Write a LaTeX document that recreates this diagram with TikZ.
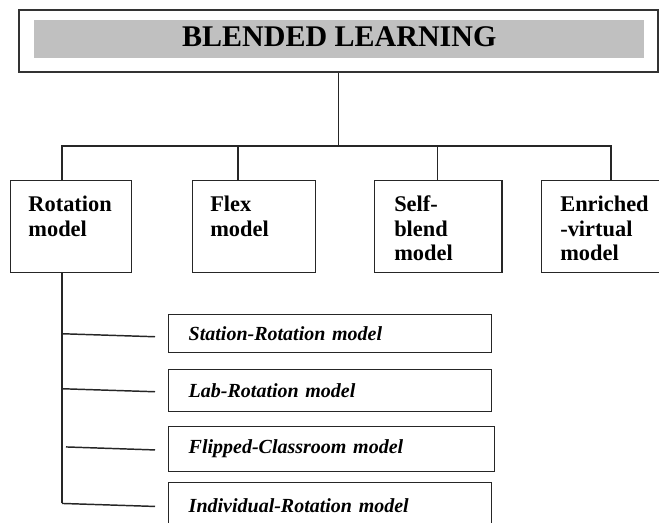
\documentclass[tikz,border=0pt]{standalone}
\usepackage{fontspec}
\setmainfont{Liberation Serif}
\usepackage{tikz}
\usetikzlibrary{calc}

\tikzset{
  link/.style={line width=1.1pt, color=black!85},
  outerbox/.style={draw=black!80, line width=1.4pt, minimum width=479.5pt, minimum height=46.7pt, inner sep=0pt},
  titleband/.style={fill=silver, minimum width=457.5pt, minimum height=28.7pt, text depth=3.75pt, inner sep=0pt,
                    font=\fontsize{22.5}{26}\selectfont\bfseries},
  modelbox/.style={draw=black!85, line width=1.1pt, anchor=north west, minimum height=69pt, inner sep=0pt},
  modeltext/.style={anchor=north west, align=left, inner sep=0pt,
                    font=\fontsize{16.8}{18.4}\selectfont\bfseries},
  subbox/.style={draw=black!85, line width=1.1pt, anchor=north west, align=left, inner xsep=15pt, inner ysep=0pt,
                 text width=#1, font=\fontsize{15}{17}\selectfont\bfseries\itshape},
}
\definecolor{silver}{HTML}{C0C0C0}

\begin{document}
\begin{tikzpicture}[x=0.75pt,y=0.75pt,yscale=-1,xscale=1]
%set diagram left start at 0, and has height of 522
\useasboundingbox (0,0) rectangle (659,522);
\clip (0,0) rectangle (659,522);

%Shape: Title box
\node[outerbox] (top) at (338.7,41.2) {};
\node[titleband] (title) at (339.3,39.2) {BLENDED LEARNING};

%Shape: Model boxes
\node[modelbox, minimum width=91pt] (rot) at (9.5,180) {};
\node[modelbox, minimum width=91.9pt] (flex) at (192,180) {};
\node[modelbox, minimum width=95.6pt] (self) at (374,180) {};
\node[modelbox, minimum width=95pt] (enr) at (540.7,180) {};

% Text Node
\node[modeltext] (rottxt) at ([shift={(14pt,11.8pt)}]rot.north west) {Rotation\\model};
% Text Node
\node[modeltext] (flextxt) at ([shift={(13.5pt,11.8pt)}]flex.north west) {Flex\\model};
% Text Node
\node[modeltext] (selftxt) at ([shift={(15pt,11.8pt)}]self.north west) {Self-\\blend\\model};
% Text Node
\node[modeltext] (enrtxt) at ([shift={(14.5pt,11.8pt)}]enr.north west) {Enriched\\-virtual\\model};

%Shape: Rotation sub-model boxes
\node[subbox=212.25pt, minimum height=28.5pt] (st) at (168,314) {Station-Rotation model};
\node[subbox=212.25pt, minimum height=31.5pt] (lab) at (168,369) {Lab-Rotation model};
\node[subbox=214.5pt, minimum height=33.75pt] (flip) at (168,425.7) {Flipped-Classroom model};
\node[subbox=212.25pt, minimum height=34.5pt] (ind) at (168,481.7) {Individual-Rotation model};

%Straight Lines: tree under the title
\coordinate (hub) at (338.7,146);
\coordinate (b1) at (62,146);
\coordinate (b2) at (238,146);
\coordinate (b3) at (437.6,146);
\coordinate (b4) at (611,146);
\draw[link] (top.south) -- (hub);
\draw[link] (b1 |- rot.north) -- (b1) -- (b4) -- (b4 |- enr.north);
\draw[link] (b2) -- (b2 |- flex.north);
\draw[link] (b3) -- (b3 |- self.north);

%Straight Lines: rotation trunk
\draw[link] (b1 |- rot.south) -- ($(b1 |- ind.west)+(0,-2)$);
\draw[link] ($(b1 |- st.west)+(0,0)$) -- ([xshift=-9.75pt,yshift=2.25pt]st.west);
\draw[link] ($(b1 |- lab.west)+(0,-2)$) -- ([xshift=-9.75pt,yshift=0.75pt]lab.west);
\draw[link] ($(b1 |- flip.west)+(4,-2)$) -- ([xshift=-9.75pt,yshift=0.75pt]flip.west);
\draw[link] ($(b1 |- ind.west)+(0,-2)$) -- ([xshift=-9.75pt,yshift=0.75pt]ind.west);

\end{tikzpicture}
\end{document}
